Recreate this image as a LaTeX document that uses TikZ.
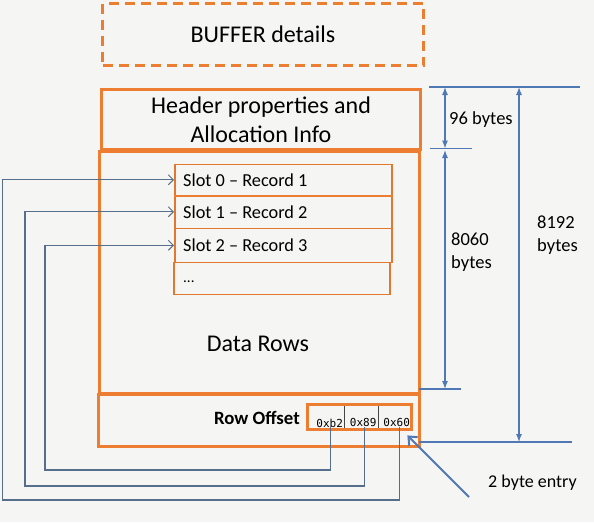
\documentclass[tikz,border=0pt]{standalone}
\usepackage{fontspec}
\setmainfont{Carlito}
\newfontfamily\cellfont{DejaVu Sans Mono}
\usetikzlibrary{arrows.meta}
\definecolor{ocol}{RGB}{237,125,49}
\definecolor{othin}{RGB}{225,120,45}
\definecolor{bgcol}{RGB}{245,245,243}
\definecolor{dimcol}{RGB}{79,120,180}
\definecolor{conncol}{RGB}{84,110,140}
\definecolor{divcol}{RGB}{70,70,70}
\tikzset{
  box/.style={draw=ocol, line width=3pt, inner sep=0pt, anchor=north west},
  dashbox/.style={box, dash pattern=on 10pt off 6pt},
  slotbox/.style={draw=othin, line width=1.5pt, inner sep=0pt, anchor=north west},
  slottext/.style={anchor=west, font=\fontsize{18.3}{21}\selectfont, inner sep=0pt},
  bigtext/.style={font=\fontsize{24}{29}\selectfont, align=center},
  dimtext/.style={font=\fontsize{18.5}{23}\selectfont, align=left, anchor=west, inner sep=0pt},
  cellbox/.style={inner sep=0pt, anchor=north west},
  celltext/.style={font=\cellfont\fontsize{11}{13}\selectfont, inner sep=0pt, anchor=south},
  conn/.style={draw=conncol, line width=1.1pt, -{Straight Barb[length=5pt,width=10pt,line width=0.9pt]}},
  dimline/.style={draw=dimcol, line width=1.1pt},
  dimarrow/.style={draw=dimcol, line width=1.1pt, {Latex[length=8pt,width=6pt]}-{Latex[length=8pt,width=6pt]}},
  pointer/.style={draw=dimcol, line width=2pt, -{Straight Barb[length=7pt,width=12pt,line width=2pt]}}
}
\begin{document}
\begin{tikzpicture}[x=1pt,y=-1pt]
\fill[bgcol] (0,0) rectangle (594,522);
\useasboundingbox (0,0) rectangle (594,522);

% main boxes
\node[dashbox, minimum width=321pt, minimum height=62pt] (buf) at (101,2) {};
\node[bigtext] at (buf.center) {BUFFER details};
\node[box, minimum width=319pt, minimum height=60pt] (hdr) at (100,88) {};
\node[bigtext] at (hdr.center) {Header properties and\\Allocation Info};
\node[box, minimum width=320pt, minimum height=242pt] (data) at (98,150) {};
\node[bigtext] (datalbl) at (258,344) {Data Rows};
\node[box, minimum width=321pt, minimum height=52pt] (roff) at (97,393) {};
\node[font=\bfseries\fontsize{18.8}{22}\selectfont, anchor=east, inner sep=0pt] (rofflbl) at (300,418) {Row Offset};

% slots
\node[slotbox, minimum width=217pt, minimum height=31pt] (s0) at (174,163.5) {};
\node[slotbox, minimum width=217pt, minimum height=33pt] (s1) at (174,194.5) {};
\node[slotbox, minimum width=217pt, minimum height=34pt] (s2) at (174,227.5) {};
\node[slotbox, minimum width=216pt, minimum height=32pt] (s3) at (173,261.5) {};
\draw[draw=ocol, line width=2.2pt] (s0.south west) -- (s0.south east);
\node[slottext] at ([xshift=9pt]s0.west) {Slot 0 – Record 1};
\node[slottext] at ([xshift=9pt]s1.west) {Slot 1 – Record 2};
\node[slottext] at ([xshift=9pt]s2.west) {Slot 2 – Record 3};
\node[slottext, font=\fontsize{15}{17}\selectfont] at ([xshift=10pt,yshift=-3pt]s3.west) {...};

% offset cells
\node[cellbox, minimum width=37pt, minimum height=25pt] (c1) at (307,404) {};
\node[cellbox, minimum width=34pt, minimum height=25pt] (c2) at (344,404) {};
\node[cellbox, minimum width=33pt, minimum height=25pt] (c3) at (378,404) {};
\draw[divcol, line width=0.8pt] (c1.north east) -- (c1.south east);
\draw[divcol, line width=0.8pt] (c2.north east) -- (c2.south east);
\draw[ocol, line width=3pt] (c1.north west) rectangle (c3.south east);
\node[celltext] at ([xshift=4pt,yshift=2pt]c1.south) {0xb2};
\node[celltext] at ([xshift=2pt,yshift=3pt]c2.south) {0x89};
\node[celltext] at ([xshift=2pt,yshift=3pt]c3.south) {0x60};

% connectors
\draw[conn] ([xshift=4.5pt,yshift=2pt]c1.south) |- (45,470) |- (s2.west);
\draw[conn] ([xshift=3pt,yshift=2pt]c2.south) |- (25,486) |- (s1.west);
\draw[conn] ([xshift=4.5pt,yshift=2pt]c3.south) |- (2.5,500) |- (s0.west);

% dimensions
\coordinate (t1) at (429,87);
\coordinate (t2) at (580,87);
\coordinate (m1) at (430,148.5);
\coordinate (m2) at (472,148.5);
\coordinate (d1) at (419,389);
\coordinate (d2) at (461,389);
\coordinate (b1) at (419,442);
\coordinate (b2) at (572,442);
\draw[dimline] (t1) -- (t2);
\draw[dimline] (m1) -- (m2);
\draw[dimline] (d1) -- (d2);
\draw[dimline] (b1) -- (b2);
\coordinate (a96t) at (445,87);
\coordinate (a96b) at (445,148.5);
\coordinate (a80t) at (445,150);
\coordinate (a80b) at (445,389);
\coordinate (a81t) at (519,87);
\coordinate (a81b) at (519,442);
\draw[dimarrow] (a96t) -- (a96b);
\draw[dimarrow] (a80t) -- (a80b);
\draw[dimarrow] (a81t) -- (a81b);
\node[dimtext] (l96) at (449,120) {96 bytes};
\node[dimtext] (l8060) at (451,252) {8060\\bytes};
\node[dimtext] (l8192) at (537,235) {8192\\bytes};

% 2 byte entry
\node[dimtext, font=\fontsize{18}{22}\selectfont] (lentry) at (488,483) {2 byte entry};
\coordinate (ptail) at (469,497);
\draw[pointer] (ptail) -- ([xshift=-4pt,yshift=-6pt]c3.south east);
\end{tikzpicture}
\end{document}
